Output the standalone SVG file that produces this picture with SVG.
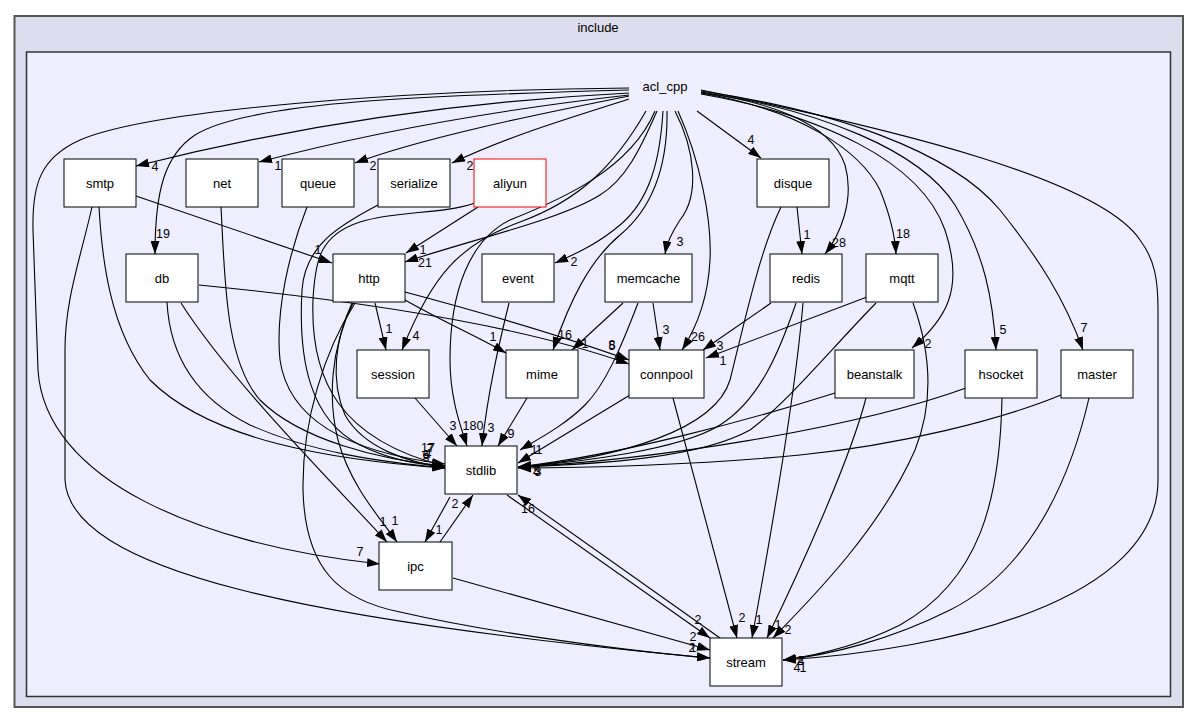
<svg xmlns="http://www.w3.org/2000/svg" width="1197" height="724" viewBox="0 0 1197 724">
<defs>
<style>
.n rect{fill:#fff;stroke:#000;stroke-width:1}
.n text,.lbl text{font-family:"Liberation Sans",Arial,sans-serif;fill:#000;text-anchor:middle}
.n text{font-size:13px}
.lbl text{font-size:12.5px}
.e path{fill:none;stroke:#000;stroke-width:1.1;marker-end:url(#a)}
.ct{font-family:"Liberation Sans",Arial,sans-serif;font-size:13px;text-anchor:middle;fill:#000}
</style>
<marker id="a" markerWidth="13" markerHeight="9" refX="13" refY="4.5" orient="auto" markerUnits="userSpaceOnUse"><path d="M0,0 L13,4.5 L0,9 z" fill="#000"/></marker>
</defs>
<rect x="0" y="0" width="1197" height="724" fill="#fff"/>
<g id="cluster_include">
<rect x="14.5" y="16" width="1168.5" height="691" fill="#ddddee" stroke="#555" stroke-width="2"/>
<text class="ct" x="598" y="32">include</text>
</g>
<g id="cluster_acl_cpp">
<rect x="26.5" y="52" width="1144" height="644.5" fill="#eeeeff" stroke="#333" stroke-width="1.5"/>
<text class="ct" x="665" y="91">acl_cpp</text>
</g>
<g id="edges" class="e">
<path d="M629,93 C530,98 350,112 136,166"/>
<path d="M629,95 C540,105 400,125 259,162"/>
<path d="M629,96 C560,110 430,135 355,163"/>
<path d="M629,99 C580,115 510,135 452,163"/>
<path d="M629,90 C450,95 250,100 195,135 C165,155 155,190 155,254"/>
<path d="M629,88 C400,90 150,110 80,140 C40,158 32,185 33,230 L38,370 C45,480 200,545 380,564"/>
<path d="M657,111 C640,150 625,180 600,195 C560,220 470,240 405,262"/>
<path d="M478,207 L406,253"/>
<path d="M646,111 C615,165 580,200 520,222 C460,244 432,275 402,350"/>
<path d="M655,111 C630,170 560,200 510,220 C470,240 450,290 450,360 C450,400 462,430 467,446"/>
<path d="M663,111 C660,160 650,200 620,225 C600,242 580,252 555,263"/>
<path d="M667,111 C668,170 650,210 620,235 C590,260 570,300 553,350"/>
<path d="M675,111 C695,150 700,195 680,220 C672,232 667,242 665,254"/>
<path d="M678,111 C700,160 712,220 710,260 C708,300 695,330 682,350"/>
<path d="M697,111 L761,158"/>
<path d="M701,93 C760,100 830,120 845,165 C855,200 840,235 825,254"/>
<path d="M701,93 C800,110 860,150 880,190 C890,215 895,235 896,254"/>
<path d="M701,94 C820,115 920,160 945,230 C965,290 945,320 912,348"/>
<path d="M701,92 C820,110 920,150 955,205 C985,255 993,300 996,350"/>
<path d="M701,91 C830,110 950,150 1000,210 C1040,260 1065,300 1083,350"/>
<path d="M701,90 C900,130 1100,180 1140,240 C1155,260 1158,280 1158,310 L1158,480 C1158,600 950,650 783,660"/>
<path d="M136,196 L332,263"/>
<path d="M99,207 C102,260 110,330 150,380 C210,440 330,460 445,468"/>
<path d="M92,207 C80,260 65,300 65,350 L65,480 C70,570 300,620 710,658"/>
<path d="M221,207 C225,280 225,360 260,400 C300,440 380,460 445,466"/>
<path d="M307,207 C290,250 275,310 280,360 C290,430 370,455 445,464"/>
<path d="M378,205 C340,225 305,245 302,290 C298,360 310,420 360,445 C390,460 420,465 445,466"/>
<path d="M475,203 C440,215 400,210 360,222 C320,235 315,260 313,300 C310,380 340,440 445,466"/>
<path d="M199,285 C350,300 520,325 629,364"/>
<path d="M405,292 C480,312 560,335 629,360"/>
<path d="M167,302 C170,360 200,400 250,425 C310,452 380,462 445,468"/>
<path d="M181,303 C230,380 330,480 387,542"/>
<path d="M353,303 C330,350 328,400 338,440 C350,485 380,518 397,542"/>
<path d="M352,303 C335,340 330,380 345,415 C365,450 410,462 445,468"/>
<path d="M355,303 C325,350 302,420 303,490 C305,570 340,600 400,612 C500,635 640,652 710,658"/>
<path d="M375,303 L386,350"/>
<path d="M405,300 C440,320 480,338 506,353"/>
<path d="M509,303 C500,340 488,390 482,446"/>
<path d="M527,398 L498,446"/>
<path d="M415,398 L457,446"/>
<path d="M623,303 L572,350"/>
<path d="M653,303 L660,350"/>
<path d="M638,303 C620,350 605,385 585,405 C565,425 540,438 520,450"/>
<path d="M630,395 L518,463"/>
<path d="M673,398 L737,638"/>
<path d="M771,303 L703,350"/>
<path d="M867,297 L706,358"/>
<path d="M796,303 C780,350 760,400 720,425 C680,450 580,462 518,467"/>
<path d="M803,303 C795,400 770,540 752,638"/>
<path d="M876,303 C830,350 790,400 750,430 C700,458 600,464 518,467"/>
<path d="M913,303 C930,350 935,400 915,450 C880,530 810,600 773,638"/>
<path d="M797,207 L802,254"/>
<path d="M781,207 C760,250 745,320 730,380 C715,430 620,458 518,467"/>
<path d="M835,393 C750,420 620,455 518,467"/>
<path d="M866,398 C850,460 800,570 767,638"/>
<path d="M966,388 C850,430 650,460 518,467"/>
<path d="M1002,398 C1000,500 980,580 900,625 C860,645 820,655 783,660"/>
<path d="M1061,395 C1000,420 900,445 800,455 C700,465 580,468 518,468"/>
<path d="M1089,398 C1070,480 1030,570 950,610 C890,640 830,655 783,660"/>
<path d="M450,497 L425,542"/>
<path d="M440,542 L473,495"/>
<path d="M507,495 L710,638"/>
<path d="M720,638 L518,495"/>
<path d="M453,578 C550,605 640,630 710,650"/>
</g>
<g id="edge-labels" class="lbl">
<text x="155" y="171">4</text>
<text x="278" y="170">1</text>
<text x="373" y="170">2</text>
<text x="470" y="170">2</text>
<text x="163" y="238">19</text>
<text x="360" y="556">7</text>
<text x="425" y="267">21</text>
<text x="423" y="254">1</text>
<text x="416" y="340">4</text>
<text x="473" y="430">180</text>
<text x="574" y="266">2</text>
<text x="565" y="339">16</text>
<text x="680" y="246">3</text>
<text x="698" y="341">26</text>
<text x="751" y="144">4</text>
<text x="839" y="247">28</text>
<text x="903" y="238">18</text>
<text x="928" y="348">2</text>
<text x="1003" y="334">5</text>
<text x="1084" y="332">7</text>
<text x="318" y="254">1</text>
<text x="389" y="333">1</text>
<text x="493" y="341">1</text>
<text x="491" y="432">3</text>
<text x="511" y="438">9</text>
<text x="453" y="430">3</text>
<text x="585" y="348">1</text>
<text x="666" y="334">3</text>
<text x="612" y="350">5</text>
<text x="612" y="349">8</text>
<text x="720" y="350">3</text>
<text x="723" y="365">1</text>
<text x="807" y="239">1</text>
<text x="742" y="622">2</text>
<text x="759" y="624">1</text>
<text x="778" y="629">1</text>
<text x="788" y="634">2</text>
<text x="439" y="534">1</text>
<text x="455" y="508">2</text>
<text x="698" y="624">2</text>
<text x="528" y="513">16</text>
<text x="383" y="526">1</text>
<text x="395" y="525">1</text>
<text x="693" y="641">2</text>
<text x="692" y="652">2</text>
<text x="693" y="652">1</text>
<text x="800" y="665">2</text>
<text x="801" y="665">4</text>
<text x="797" y="672">4</text>
<text x="803" y="672">1</text>
<text x="428" y="452">17</text>
<text x="430" y="453">7</text>
<text x="426" y="459">6</text>
<text x="428" y="458">4</text>
<text x="426" y="462">8</text>
<text x="536" y="474">2</text>
<text x="537" y="475">5</text>
<text x="538" y="476">3</text>
<text x="534" y="454">1</text>
<text x="539" y="454">1</text>
</g>
<g id="node_smtp" class="n"><rect x="64" y="159" width="72" height="48"/><text x="100" y="187.5">smtp</text></g>
<g id="node_net" class="n"><rect x="186" y="159" width="72" height="48"/><text x="222" y="187.5">net</text></g>
<g id="node_queue" class="n"><rect x="282" y="159" width="72" height="48"/><text x="318" y="187.5">queue</text></g>
<g id="node_serialize" class="n"><rect x="378" y="159" width="72" height="48"/><text x="414" y="187.5">serialize</text></g>
<g id="node_aliyun" class="n"><rect x="474" y="159" width="72" height="48" style="stroke:#ff0000"/><text x="510" y="187.5">aliyun</text></g>
<g id="node_disque" class="n"><rect x="757" y="159" width="72" height="48"/><text x="793" y="187.5">disque</text></g>
<g id="node_db" class="n"><rect x="126" y="254" width="72" height="48"/><text x="162" y="282.5">db</text></g>
<g id="node_http" class="n"><rect x="333" y="254" width="72" height="48"/><text x="369" y="282.5">http</text></g>
<g id="node_event" class="n"><rect x="482" y="254" width="72" height="48"/><text x="518" y="282.5">event</text></g>
<g id="node_memcache" class="n"><rect x="605" y="254" width="87" height="48"/><text x="648.5" y="282.5">memcache</text></g>
<g id="node_redis" class="n"><rect x="770" y="254" width="72" height="48"/><text x="806" y="282.5">redis</text></g>
<g id="node_mqtt" class="n"><rect x="866" y="254" width="72" height="48"/><text x="902" y="282.5">mqtt</text></g>
<g id="node_session" class="n"><rect x="357" y="350" width="72" height="48"/><text x="393" y="378.5">session</text></g>
<g id="node_mime" class="n"><rect x="506" y="350" width="72" height="48"/><text x="542" y="378.5">mime</text></g>
<g id="node_connpool" class="n"><rect x="629" y="350" width="75" height="48"/><text x="666.5" y="378.5">connpool</text></g>
<g id="node_beanstalk" class="n"><rect x="835" y="350" width="79" height="48"/><text x="874.5" y="378.5">beanstalk</text></g>
<g id="node_hsocket" class="n"><rect x="965" y="350" width="72" height="48"/><text x="1001" y="378.5">hsocket</text></g>
<g id="node_master" class="n"><rect x="1061" y="350" width="72" height="48"/><text x="1097" y="378.5">master</text></g>
<g id="node_stdlib" class="n"><rect x="445" y="446" width="72" height="48"/><text x="481" y="474.5">stdlib</text></g>
<g id="node_ipc" class="n"><rect x="379" y="542" width="73" height="48"/><text x="415.5" y="570.5">ipc</text></g>
<g id="node_stream" class="n"><rect x="710" y="638" width="72" height="48"/><text x="746" y="666.5">stream</text></g>
</svg>
